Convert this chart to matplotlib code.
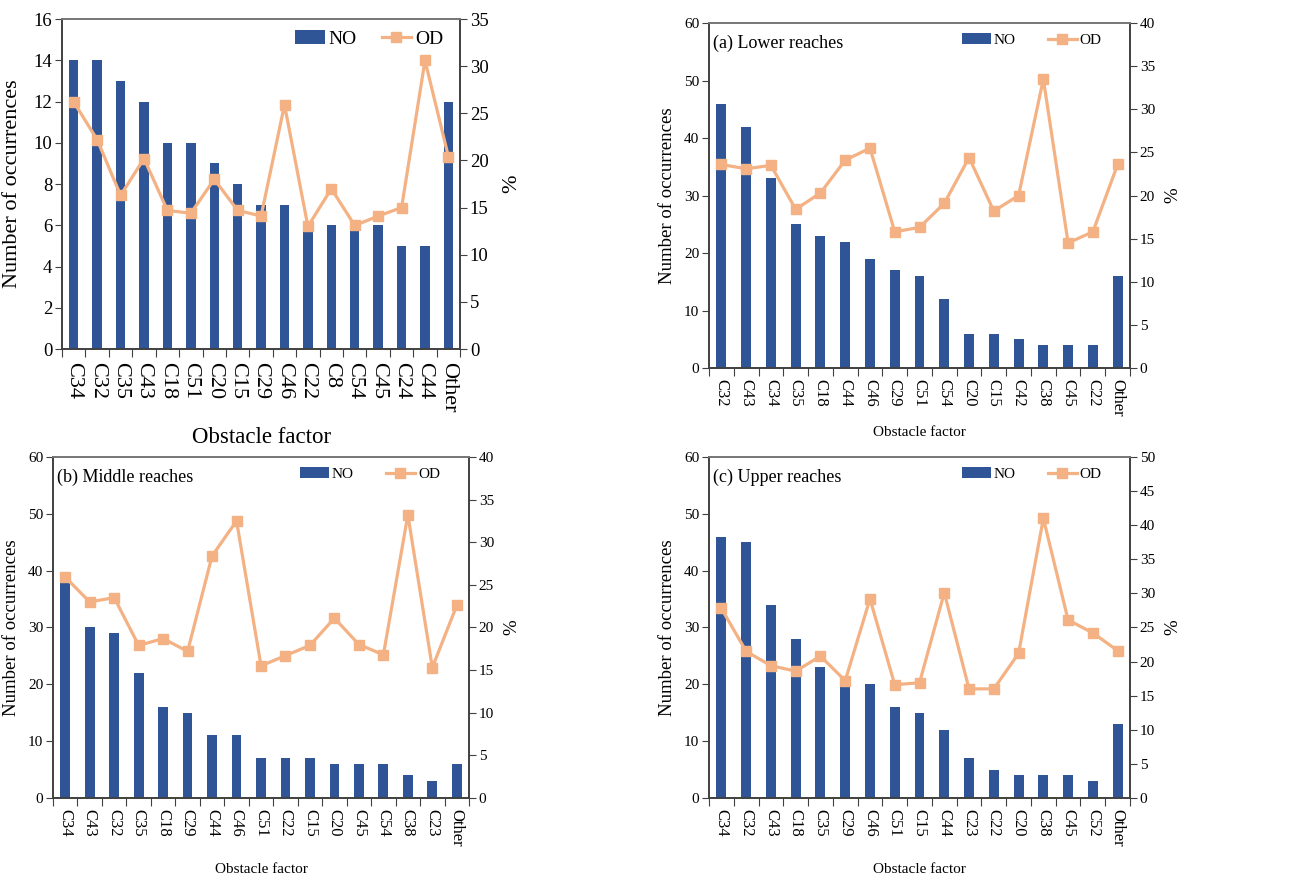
import numpy as np
import matplotlib
matplotlib.use('Agg')
import matplotlib.pyplot as plt
from matplotlib.ticker import FixedLocator, NullFormatter

plt.rcParams['font.family'] = ['Liberation Serif', 'DejaVu Serif']

# overall basin
cats_all = ['C34', 'C32', 'C35', 'C43', 'C18', 'C51', 'C20', 'C15', 'C29', 'C46',
            'C22', 'C8', 'C54', 'C45', 'C24', 'C44', 'Other']
no_all = [14, 14, 13, 12, 10, 10, 9, 8, 7, 7, 6, 6, 6, 6, 5, 5, 12]
od_all = [26.2, 22.2, 16.3, 20.2, 14.7, 14.4, 18.0, 14.7, 14.1, 25.9,
          13.0, 17.0, 13.1, 14.1, 15.0, 30.6, 20.4]

# (a) lower reaches
cats_low = ['C32', 'C43', 'C34', 'C35', 'C18', 'C44', 'C46', 'C29', 'C51', 'C54',
            'C20', 'C15', 'C42', 'C38', 'C45', 'C22', 'Other']
no_low = [46, 42, 33, 25, 23, 22, 19, 17, 16, 12, 6, 6, 5, 4, 4, 4, 16]
od_low = [23.6, 23.1, 23.5, 18.4, 20.3, 24.1, 25.5, 15.8, 16.3, 19.1,
          24.4, 18.2, 20.0, 33.5, 14.5, 15.8, 23.6]

# (b) middle reaches
cats_mid = ['C34', 'C43', 'C32', 'C35', 'C18', 'C29', 'C44', 'C46', 'C51', 'C22',
            'C15', 'C20', 'C45', 'C54', 'C38', 'C23', 'Other']
no_mid = [39, 30, 29, 22, 16, 15, 11, 11, 7, 7, 7, 6, 6, 6, 4, 3, 6]
od_mid = [25.9, 23.0, 23.5, 17.9, 18.7, 17.2, 28.4, 32.5, 15.5, 16.7,
          17.9, 21.1, 18.0, 16.8, 33.2, 15.3, 22.6]

# (c) upper reaches
cats_up = ['C34', 'C32', 'C43', 'C18', 'C35', 'C29', 'C46', 'C51', 'C15', 'C44',
           'C23', 'C22', 'C20', 'C38', 'C45', 'C52', 'Other']
no_up = [46, 45, 34, 28, 23, 21, 20, 16, 15, 12, 7, 5, 4, 4, 4, 3, 13]
od_up = [27.8, 21.5, 19.4, 18.6, 20.8, 17.2, 29.2, 16.6, 16.9, 30.1,
         16.0, 16.0, 21.2, 41.0, 26.1, 24.2, 21.6]

BAR = '#2F5597'
LINE = '#F4B183'
EDGE = '#404040'


def panel(fig, rect, cats, no, od, ymax, ystep, rmax, rstep, title, fs):
    # fs: dict of font sizes and label / legend placement
    ax = fig.add_axes(rect)
    x = np.arange(len(cats))
    b = ax.bar(x, no, width=0.4, color=BAR, label='NO', zorder=2)
    ax.set_xlim(-0.5, len(cats) - 0.5)
    ax.set_ylim(0, ymax)
    ax.set_yticks(np.arange(0, ymax + 0.1, ystep))
    ax.xaxis.set_major_locator(FixedLocator(np.arange(-0.5, len(cats), 1.0)))
    ax.xaxis.set_major_formatter(NullFormatter())
    ax.xaxis.set_minor_locator(FixedLocator(x))
    ax.set_xticklabels(cats, minor=True, rotation=-90, fontsize=fs['xtick'])
    ax.tick_params(axis='x', which='major', direction='out', length=6, color=EDGE)
    ax.tick_params(axis='x', which='minor', length=0, pad=fs['xpad'])
    ax.tick_params(axis='y', direction='out', length=5, color=EDGE,
                   labelsize=fs['tick'], pad=2)
    ax.set_ylabel('Number of occurrences', fontsize=fs['ylab'])
    ax.yaxis.set_label_coords(fs['ylab_x'], 0.5)
    ax.set_xlabel('Obstacle factor', fontsize=fs['xlab'], va='center')
    ax.xaxis.set_label_coords(0.5, fs['xlab_y'])

    ax2 = ax.twinx()
    l, = ax2.plot(x, od, color=LINE, lw=2.3, marker='s', ms=6.5, label='OD', zorder=3)
    ax2.set_ylim(0, rmax)
    ax2.set_yticks(np.arange(0, rmax + 0.1, rstep))
    ax2.tick_params(axis='y', direction='out', length=5, color=EDGE,
                    labelsize=fs['tick'], pad=2)
    ax2.set_ylabel('%', fontsize=fs['ylab'])
    ax2.yaxis.set_label_coords(fs['pct_x'], 0.5)
    for a in (ax, ax2):
        for s in a.spines.values():
            s.set_color(EDGE)
            s.set_linewidth(1.2)
    ax2.spines['top'].set_color('#7f7f7f')

    if title:
        ax.text(0.01, 0.94, title, transform=ax.transAxes, fontsize=fs['title'],
                va='center', ha='left')
    ax2.legend([b, l], ['NO', 'OD'], loc='center right', bbox_to_anchor=fs['leg'],
               ncol=2, frameon=False, fontsize=fs['legfs'],
               handlelength=fs['hl'], handletextpad=0.2,
               columnspacing=fs['cs'], borderaxespad=0, borderpad=0)
    return ax


fs_big = dict(tick=13.5, xtick=16, xpad=9, ylab=16, xlab=16.5, legfs=14,
              hl=1.5, cs=1.3, ylab_x=-0.10, pct_x=1.105, xlab_y=-0.267,
              leg=(0.957, 0.94), title=13)
fs_a = dict(tick=11, xtick=12, xpad=8, ylab=13.5, xlab=11, legfs=11,
            hl=1.9, cs=2.1, ylab_x=-0.078, pct_x=1.081, xlab_y=-0.188,
            leg=(0.933, 0.95), title=13)
fs_b = dict(fs_a, ylab_x=-0.079, pct_x=1.082, xlab_y=-0.211, leg=(0.93, 0.95))
fs_c = dict(fs_a, xlab_y=-0.211, leg=(0.933, 0.95))

fig = plt.figure(figsize=(13.12, 8.8), dpi=100)

panel(fig, [0.0473, 0.6034, 0.3034, 0.375], cats_all, no_all, od_all,
      16, 2, 35, 5, None, fs_big)
panel(fig, [0.5404, 0.5818, 0.3209, 0.392], cats_low, no_low, od_low,
      60, 10, 40, 5, '(a) Lower reaches', fs_a)
panel(fig, [0.0404, 0.0932, 0.3171, 0.3875], cats_mid, no_mid, od_mid,
      60, 10, 40, 5, '(b) Middle reaches', fs_b)
panel(fig, [0.5404, 0.0932, 0.3209, 0.3875], cats_up, no_up, od_up,
      60, 10, 50, 5, '(c) Upper reaches', fs_c)

fig.savefig('out.png', dpi=100)
